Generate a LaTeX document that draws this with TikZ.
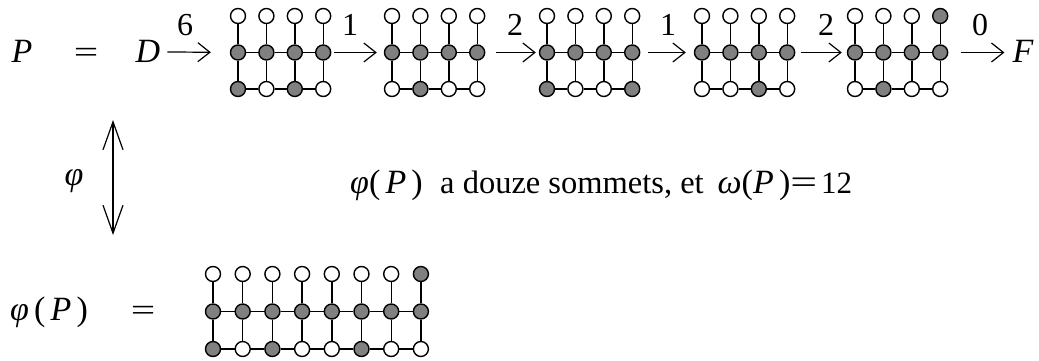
\documentclass[tikz,border=0pt]{standalone}
\usepackage{fontspec}
\setmainfont{Liberation Serif}
\usetikzlibrary{arrows.meta}
\definecolor{vgray}{RGB}{128,128,128}
\newcommand\mi[1]{{\fontsize{34}{40}\selectfont\itshape #1}}
\newcommand\mr[1]{{\fontsize{34}{40}\selectfont #1}}
\newcommand\weq{\scalebox{1.4}[1]{=}}
\tikzset{
  wv/.style={circle,draw=black,line width=1.4pt,fill=white,minimum size=15pt,inner sep=0pt},
  s0/.style={wv},
  s1/.style={wv,fill=vgray},
  edge/.style={line width=1.4pt},
  txt/.style={font=\fontsize{31}{36}\selectfont,inner sep=0pt},
  ptxt/.style={font=\fontsize{32.5}{40}\selectfont,inner sep=0pt},
  dig/.style={font=\fontsize{32}{36}\selectfont,inner sep=0pt,anchor=base},
  arr/.style={line width=1.2pt,-{Straight Barb[length=12pt,width=19pt,line width=1.2pt]}},
  darr/.style={line width=1.2pt,{Straight Barb[length=28pt,width=20pt,line width=1.2pt]}-{Straight Barb[length=28pt,width=20pt,line width=1.2pt]}}
}
% #1 name, #2 x0, #3 dx, #4 y0, #5 dy, #6 columns, #7 top pattern, #8 bottom pattern
\newcommand\drawgrid[8]{%
  \foreach \c in {1,...,#6}{
    \pgfmathtruncatemacro\ci{\c-1}
    \pgfmathtruncatemacro\tp{{#7}[\ci]}
    \pgfmathtruncatemacro\bp{{#8}[\ci]}
    \pgfmathsetmacro\xx{#2+(\c-1)*#3}
    \node[s\tp] (#1t\c) at (\xx,#4) {};
    \node[s1] (#1m\c) at (\xx,#4+#5) {};
    \node[s\bp] (#1b\c) at (\xx,#4+2*#5) {};
  }
  \foreach \c in {1,...,#6}{
    \draw[edge] (#1t\c) -- (#1m\c) -- (#1b\c);
  }
  \pgfmathtruncatemacro\nm{#6-1}
  \foreach \c in {1,...,\nm}{
    \pgfmathtruncatemacro\d{\c+1}
    \draw[edge] (#1m\c) -- (#1m\d);
    \draw[edge] (#1b\c) -- (#1b\d);
  }
}
\begin{document}
\begin{tikzpicture}[x=1pt,y=-1pt]
\useasboundingbox (0,0) rectangle (1039,361);
% top row
\node[txt,anchor=base] (P) at (22,63) {\mi{P}};
\node[txt,anchor=base] (eq1) at (86,63) {\weq};
\node[txt,anchor=base] (D) at (148,63) {\mi{D}};
\node[txt,anchor=base] (F) at (1023,63) {\mi{F}};
\drawgrid{a}{238}{28.4}{16}{36.5}{4}{0,0,0,0}{1,0,1,0}
\drawgrid{b}{392}{28.4}{16}{36.5}{4}{0,0,0,0}{0,1,0,0}
\drawgrid{c}{547}{28.4}{16}{36.5}{4}{0,0,0,0}{1,0,0,1}
\drawgrid{d}{702}{28.4}{16}{36.5}{4}{0,0,0,0}{0,0,1,0}
\drawgrid{e}{855}{28.4}{16}{36.5}{4}{0,0,0,1}{0,1,0,0}
\draw[arr,shorten <=7pt,shorten >=19pt] (D.east) -- (am1);
\draw[arr,shorten <=3pt,shorten >=7pt] (am4) -- (bm1);
\draw[arr,shorten <=11pt,shorten >=3pt] (bm4) -- (cm1);
\draw[arr,shorten <=8pt,shorten >=8pt] (cm4) -- (dm1);
\draw[arr,shorten <=6pt,shorten >=5pt] (dm4) -- (em1);
\draw[arr,shorten <=13pt,shorten >=8pt] (em4) -- (F.west |- em4);
\node[dig] (l1) at (185,36) {6};
\node[dig] (l2) at (350,36) {1};
\node[dig] (l3) at (515,36) {2};
\node[dig] (l4) at (668,36) {1};
\node[dig] (l5) at (826,36) {2};
\node[dig] (l6) at (980,36) {0};
% middle
\coordinate (up) at (113,120);
\coordinate (dn) at (113,235);
\draw[darr] (up) -- (dn);
\node[txt] (phi) at (74,181) {\mi{φ}};
\node[txt,anchor=base west] (mphi) at (350,193) {\mi{φ}\mr{(}\,\mi{P}\,\mr{)}};
\node[ptxt,anchor=base west] (mid) at (440,193) {a douze sommets, et\hspace{14pt}{\fontsize{31}{36}\selectfont\mi{ω}\mr{(}\mi{P}\,\mr{)}\mr{\weq}\hspace{4pt}12}};
% bottom
\node[txt,anchor=base west] (phiP) at (10,320) {\mi{φ}\,\mr{(}\,\mi{P}\,\mr{)}};
\node[txt,anchor=base] (eq2) at (143,320) {\weq};
\drawgrid{f}{213}{29.7}{274}{37.5}{8}{0,0,0,0,0,0,0,1}{1,0,1,0,0,1,0,0}
\end{tikzpicture}
\end{document}
